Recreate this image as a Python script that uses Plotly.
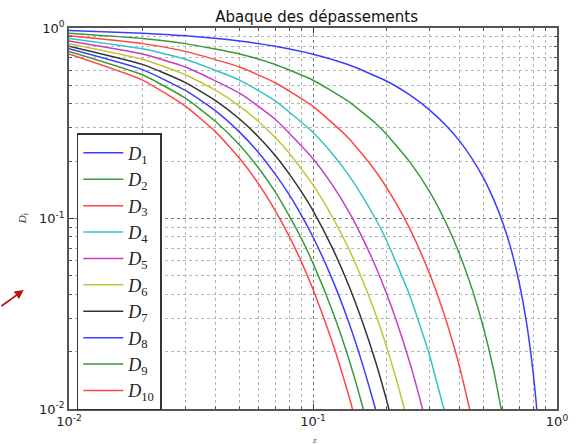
import plotly.graph_objects as go

# ---- data (z, D_i) ----
z1 = [0.01, 0.02, 0.03, 0.05, 0.07, 0.1, 0.14, 0.2, 0.25, 0.3, 0.35, 0.4, 0.45, 0.5, 0.55, 0.6, 0.65, 0.7, 0.75, 0.78, 0.8, 0.82, 0.83]
d1 = [0.969, 0.939, 0.910, 0.854, 0.802, 0.729, 0.641, 0.527, 0.444, 0.372, 0.309, 0.254, 0.205, 0.163, 0.126, 0.0948, 0.0681, 0.0460, 0.0284, 0.0199, 0.0152, 0.0111, 0.00933]

z2 = [0.01, 0.02, 0.03, 0.05, 0.07, 0.1, 0.14, 0.18, 0.2, 0.25, 0.3, 0.35, 0.4, 0.45, 0.5, 0.55, 0.6]
d2 = [0.939, 0.882, 0.828, 0.730, 0.643, 0.532, 0.411, 0.317, 0.277, 0.197, 0.139, 0.0956, 0.0644, 0.0422, 0.0266, 0.0160, 0.00898]

z3 = [0.01, 0.02, 0.03, 0.05, 0.07, 0.1, 0.14, 0.18, 0.22, 0.25, 0.3, 0.35, 0.4, 0.45]
d3 = [0.910, 0.828, 0.754, 0.624, 0.516, 0.388, 0.264, 0.178, 0.119, 0.0877, 0.0516, 0.0296, 0.0164, 0.00866]

z4 = [0.01, 0.02, 0.03, 0.05, 0.07, 0.1, 0.12, 0.14, 0.16, 0.18, 0.2, 0.25, 0.3, 0.35]
d4 = [0.882, 0.778, 0.686, 0.533, 0.414, 0.283, 0.219, 0.169, 0.130, 0.100, 0.0769, 0.0390, 0.0192, 0.00914]

z5 = [0.01, 0.02, 0.03, 0.05, 0.07, 0.1, 0.12, 0.14, 0.16, 0.18, 0.2, 0.22, 0.25, 0.28, 0.3]
d5 = [0.855, 0.730, 0.624, 0.455, 0.332, 0.206, 0.150, 0.109, 0.0784, 0.0565, 0.0405, 0.0289, 0.0173, 0.0102, 0.00716]

z6 = [0.01, 0.02, 0.03, 0.04, 0.05, 0.06, 0.07, 0.08, 0.1, 0.12, 0.14, 0.16, 0.18, 0.2, 0.22, 0.25]
d6 = [0.828, 0.686, 0.568, 0.470, 0.389, 0.322, 0.266, 0.220, 0.150, 0.102, 0.0696, 0.0471, 0.0318, 0.0213, 0.0142, 0.00770]

z7 = [0.01, 0.02, 0.03, 0.04, 0.05, 0.06, 0.07, 0.08, 0.09, 0.1, 0.12, 0.14, 0.16, 0.18, 0.2, 0.22]
d7 = [0.803, 0.644, 0.517, 0.415, 0.333, 0.267, 0.214, 0.171, 0.137, 0.110, 0.0701, 0.0446, 0.0283, 0.0179, 0.0112, 0.00702]

z8 = [0.01, 0.02, 0.03, 0.04, 0.05, 0.06, 0.07, 0.08, 0.09, 0.1, 0.12, 0.14, 0.16, 0.18, 0.2]
d8 = [0.778, 0.605, 0.470, 0.366, 0.284, 0.221, 0.171, 0.133, 0.103, 0.0800, 0.0479, 0.0286, 0.0170, 0.0101, 0.00592]

z9 = [0.01, 0.02, 0.03, 0.04, 0.05, 0.06, 0.07, 0.08, 0.09, 0.1, 0.12, 0.14, 0.16, 0.18]
d9 = [0.754, 0.568, 0.428, 0.322, 0.243, 0.183, 0.138, 0.103, 0.0777, 0.0583, 0.0328, 0.0184, 0.0102, 0.00566]

z10 = [0.01, 0.02, 0.03, 0.04, 0.05, 0.06, 0.07, 0.08, 0.09, 0.1, 0.12, 0.14, 0.15, 0.16]
d10 = [0.730, 0.533, 0.389, 0.284, 0.207, 0.151, 0.110, 0.0804, 0.0585, 0.0425, 0.0224, 0.0118, 0.00851, 0.00614]

series_z = [z1, z2, z3, z4, z5, z6, z7, z8, z9, z10]
series_d = [d1, d2, d3, d4, d5, d6, d7, d8, d9, d10]
names = ["<i>D</i><sub>%d</sub>" % i for i in range(1, 11)]
colors = ["#3c3cff", "#3a993a", "#ff4545", "#33c4c4", "#c63cc6",
          "#c4c43a", "#333333", "#3c3cff", "#3a993a", "#ff4545"]

major_vals = [0.01, 0.1, 1]
major_text = ["10<sup>-2</sup>", "10<sup>-1</sup>", "10<sup>0</sup>"]
minor_vals = [k * 10.0 ** e for e in (-2, -1) for k in range(2, 10)]

fig = go.Figure()
for zs, ds, nm, c in zip(series_z, series_d, names, colors):
    fig.add_trace(go.Scatter(x=zs, y=ds, mode="lines", name=nm,
                             line=dict(color=c, width=1.5, shape="spline", smoothing=0.5)))

axis_common = dict(
    type="log", range=[-2, 0], tickmode="array", tickvals=major_vals, ticktext=major_text,
    ticks="inside", ticklen=5, tickcolor="#333", tickwidth=1,
    showline=True, linecolor="#555", linewidth=1.5, mirror="ticks",
    showgrid=True, gridcolor="#777", griddash="dot", gridwidth=1,
    zeroline=False,
    tickfont=dict(family="DejaVu Sans", size=13, color="#222"),
    minor=dict(tickmode="array", tickvals=minor_vals, ticks="inside", ticklen=3,
               tickcolor="#555", showgrid=True, gridcolor="#b5b5b5", griddash="dot", gridwidth=1),
)
fig.update_xaxes(**axis_common)
fig.update_yaxes(**axis_common)

fig.update_layout(
    width=580, height=445,
    margin=dict(l=69, r=16, t=28, b=36),
    paper_bgcolor="white", plot_bgcolor="white",
    title=dict(text="Abaque des dépassements", x=0.546, xanchor="center",
               y=1 - 17 / 445, yanchor="middle", yref="container",
               font=dict(family="DejaVu Sans", size=15, color="#111")),
    showlegend=True,
    legend=dict(x=0.016, y=0.724, xanchor="left", yanchor="top",
                bgcolor="white", bordercolor="#333", borderwidth=1.5,
                font=dict(family="Liberation Serif", size=18, color="#222"),
                itemwidth=40),
    annotations=[
        dict(text="<i>D</i><sub>i</sub>", x=-0.095, y=0.5, xref="paper", yref="paper",
             xanchor="center", yanchor="middle",
             textangle=-90, showarrow=False, font=dict(family="Liberation Serif", size=11, color="#333")),
        dict(text="<i>z</i>", x=0.503, y=-0.081, xref="paper", yref="paper",
             xanchor="center", yanchor="middle",
             showarrow=False, font=dict(family="Liberation Serif", size=9, color="#555")),
        dict(text="", x=-0.0929, y=0.3123, xref="paper", yref="paper",
             showarrow=True, ax=-25, ay=17, arrowhead=2, arrowsize=1,
             arrowwidth=1.8, arrowcolor="#b81414"),
    ],
)

fig.write_html("out.html")
